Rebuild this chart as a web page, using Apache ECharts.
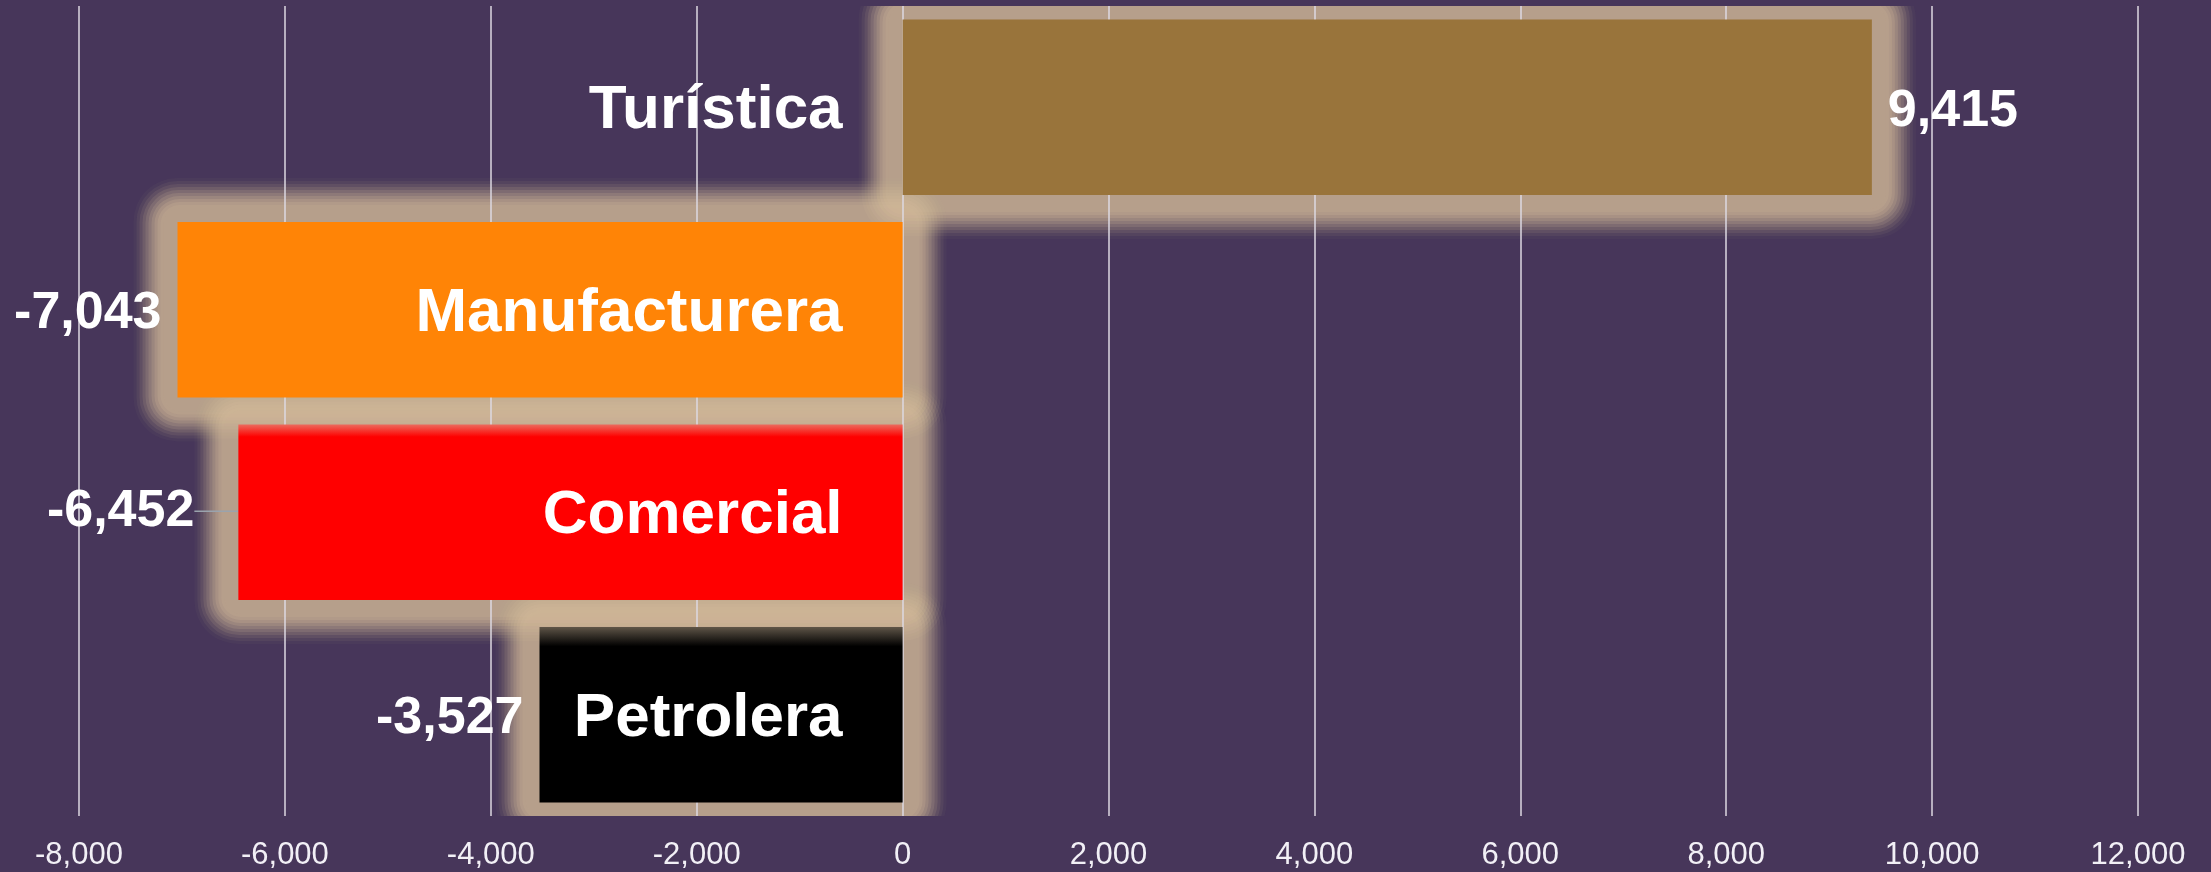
<!DOCTYPE html>
<html>
<head>
<meta charset="utf-8">
<script src="https://cdn.jsdelivr.net/npm/echarts@6/dist/echarts.min.js"></script>
<style>
  html, body { margin: 0; padding: 0; background: #47365a; }
  #chart { width: 2211px; height: 872px; }
</style>
</head>
<body>
<div id="chart"></div>
<script>
// data
var categories = ['Turística', 'Manufacturera', 'Comercial', 'Petrolera'];
var values = [9415, -7043, -6452, -3527];
var barColors = ['#99743b', '#ff8406', '#ff0000', '#000000'];
var tickMin = -8000, tickMax = 12000, tickStep = 2000;

var chart = echarts.init(document.getElementById('chart'));

var barShare = 0.866;
var labelFont = 'Liberation Sans, Arial, sans-serif';

function barFill(i) {
    // red and black bars pick up the neighbour's glow along their top edge
    if (i === 2) {
        return new echarts.graphic.LinearGradient(0, 0, 0, 1, [
            { offset: 0, color: '#ec6a5c' },
            { offset: 0.07, color: '#ff0000' },
            { offset: 1, color: '#ff0000' }
        ]);
    }
    if (i === 3) {
        return new echarts.graphic.LinearGradient(0, 0, 0, 1, [
            { offset: 0, color: '#5e5447' },
            { offset: 0.11, color: '#000000' },
            { offset: 1, color: '#000000' }
        ]);
    }
    return barColors[i];
}

var mainData = values.map(function (v, i) {
    var item = {
        value: v,
        itemStyle: { color: barFill(i) },
        label: { position: v >= 0 ? 'right' : 'left' }
    };
    if (i === 2) {
        item.labelLine = { show: true, lineStyle: { color: '#9aa3ad', width: 1.5 } };
    }
    return item;
});

var pointData = values.map(function (v, i) { return [v, i]; });

// glow profile: nearly solid close to the bar, fading out further away
var glowReach = 47, glowSolid = 14, glowMax = 0.8, glowStep = 3;
function glowOpacity(d) {
    var t = Math.min(1, Math.max(0, (d - glowSolid) / (glowReach - glowSolid)));
    var s = t * t * (3 - 2 * t);
    return glowMax * (1 - s);
}
var glowLayers = [];
(function () {
    var prev = 0;
    for (var p = glowReach; p > 0; p -= glowStep) {
        var o = glowOpacity(p - glowStep / 2);
        var a = 1 - (1 - o) / (1 - prev);
        glowLayers.push({ pad: p, alpha: Math.max(0, a) });
        prev = o;
    }
})();

function renderGlow(params, api) {
    var v = api.value(0), idx = api.value(1);
    var p0 = api.coord([0, idx]);
    var p1 = api.coord([v, idx]);
    var h = api.size([0, 1])[1] * barShare;
    var x0 = Math.min(p0[0], p1[0]);
    var w = Math.abs(p1[0] - p0[0]);
    var y0 = p0[1] - h / 2;
    var children = glowLayers.map(function (l) {
        return {
            type: 'rect',
            shape: {
                x: x0 - l.pad,
                y: y0 - l.pad,
                width: w + l.pad * 2,
                height: h + l.pad * 2,
                r: l.pad * 0.9 + 4
            },
            style: { fill: 'rgba(212, 188, 154, ' + l.alpha.toFixed(4) + ')' }
        };
    });
    return { type: 'group', children: children };
}

// category names sit just left of the zero line
function renderName(params, api) {
    var idx = api.value(1);
    var p0 = api.coord([0, idx]);
    return {
        type: 'text',
        x: p0[0] - 60,
        y: p0[1] + 4,
        style: {
            text: categories[idx],
            fill: '#ffffff',
            font: 'bold 62px ' + labelFont,
            align: 'right',
            verticalAlign: 'middle'
        }
    };
}

var option = {
    backgroundColor: '#47365a',
    animation: false,
    grid: { left: 79, right: 73, top: 6, bottom: 56, outerBoundsMode: 'none', containLabel: false },
    xAxis: {
        type: 'value',
        min: tickMin,
        max: tickMax,
        interval: tickStep,
        axisLine: { show: false },
        axisTick: { show: false },
        splitLine: { lineStyle: { color: '#dcd8e2', width: 1.5 } },
        axisLabel: {
            color: '#f2f0f6',
            fontSize: 31,
            fontFamily: labelFont,
            margin: 24,
            formatter: function (v) { return v.toLocaleString('en-US'); }
        }
    },
    yAxis: {
        type: 'category',
        data: categories,
        inverse: true,
        axisLine: { show: false },
        axisTick: { show: false },
        splitLine: { show: false },
        axisLabel: { show: false }
    },
    series: [
        {
            name: 'glow',
            type: 'custom',
            data: pointData,
            encode: { x: 0, y: 1 },
            clip: true,
            silent: true,
            z: -1,
            renderItem: renderGlow
        },
        {
            name: 'valor',
            type: 'bar',
            data: mainData,
            barCategoryGap: '13.4%',
            label: {
                show: true,
                color: '#ffffff',
                fontSize: 52,
                fontWeight: 'bold',
                fontFamily: labelFont,
                distance: 16,
                formatter: function (p) { return p.value.toLocaleString('en-US'); }
            },
            labelLayout: function (params) {
                if (params.dataIndex === 2) {
                    return { dx: -28, dy: -1 };
                }
                return { dy: 4 };
            }
        },
        {
            name: 'nombres',
            type: 'custom',
            data: pointData,
            encode: { x: 0, y: 1 },
            z: 5,
            silent: true,
            renderItem: renderName
        }
    ]
};

chart.setOption(option);
</script>
</body>
</html>
